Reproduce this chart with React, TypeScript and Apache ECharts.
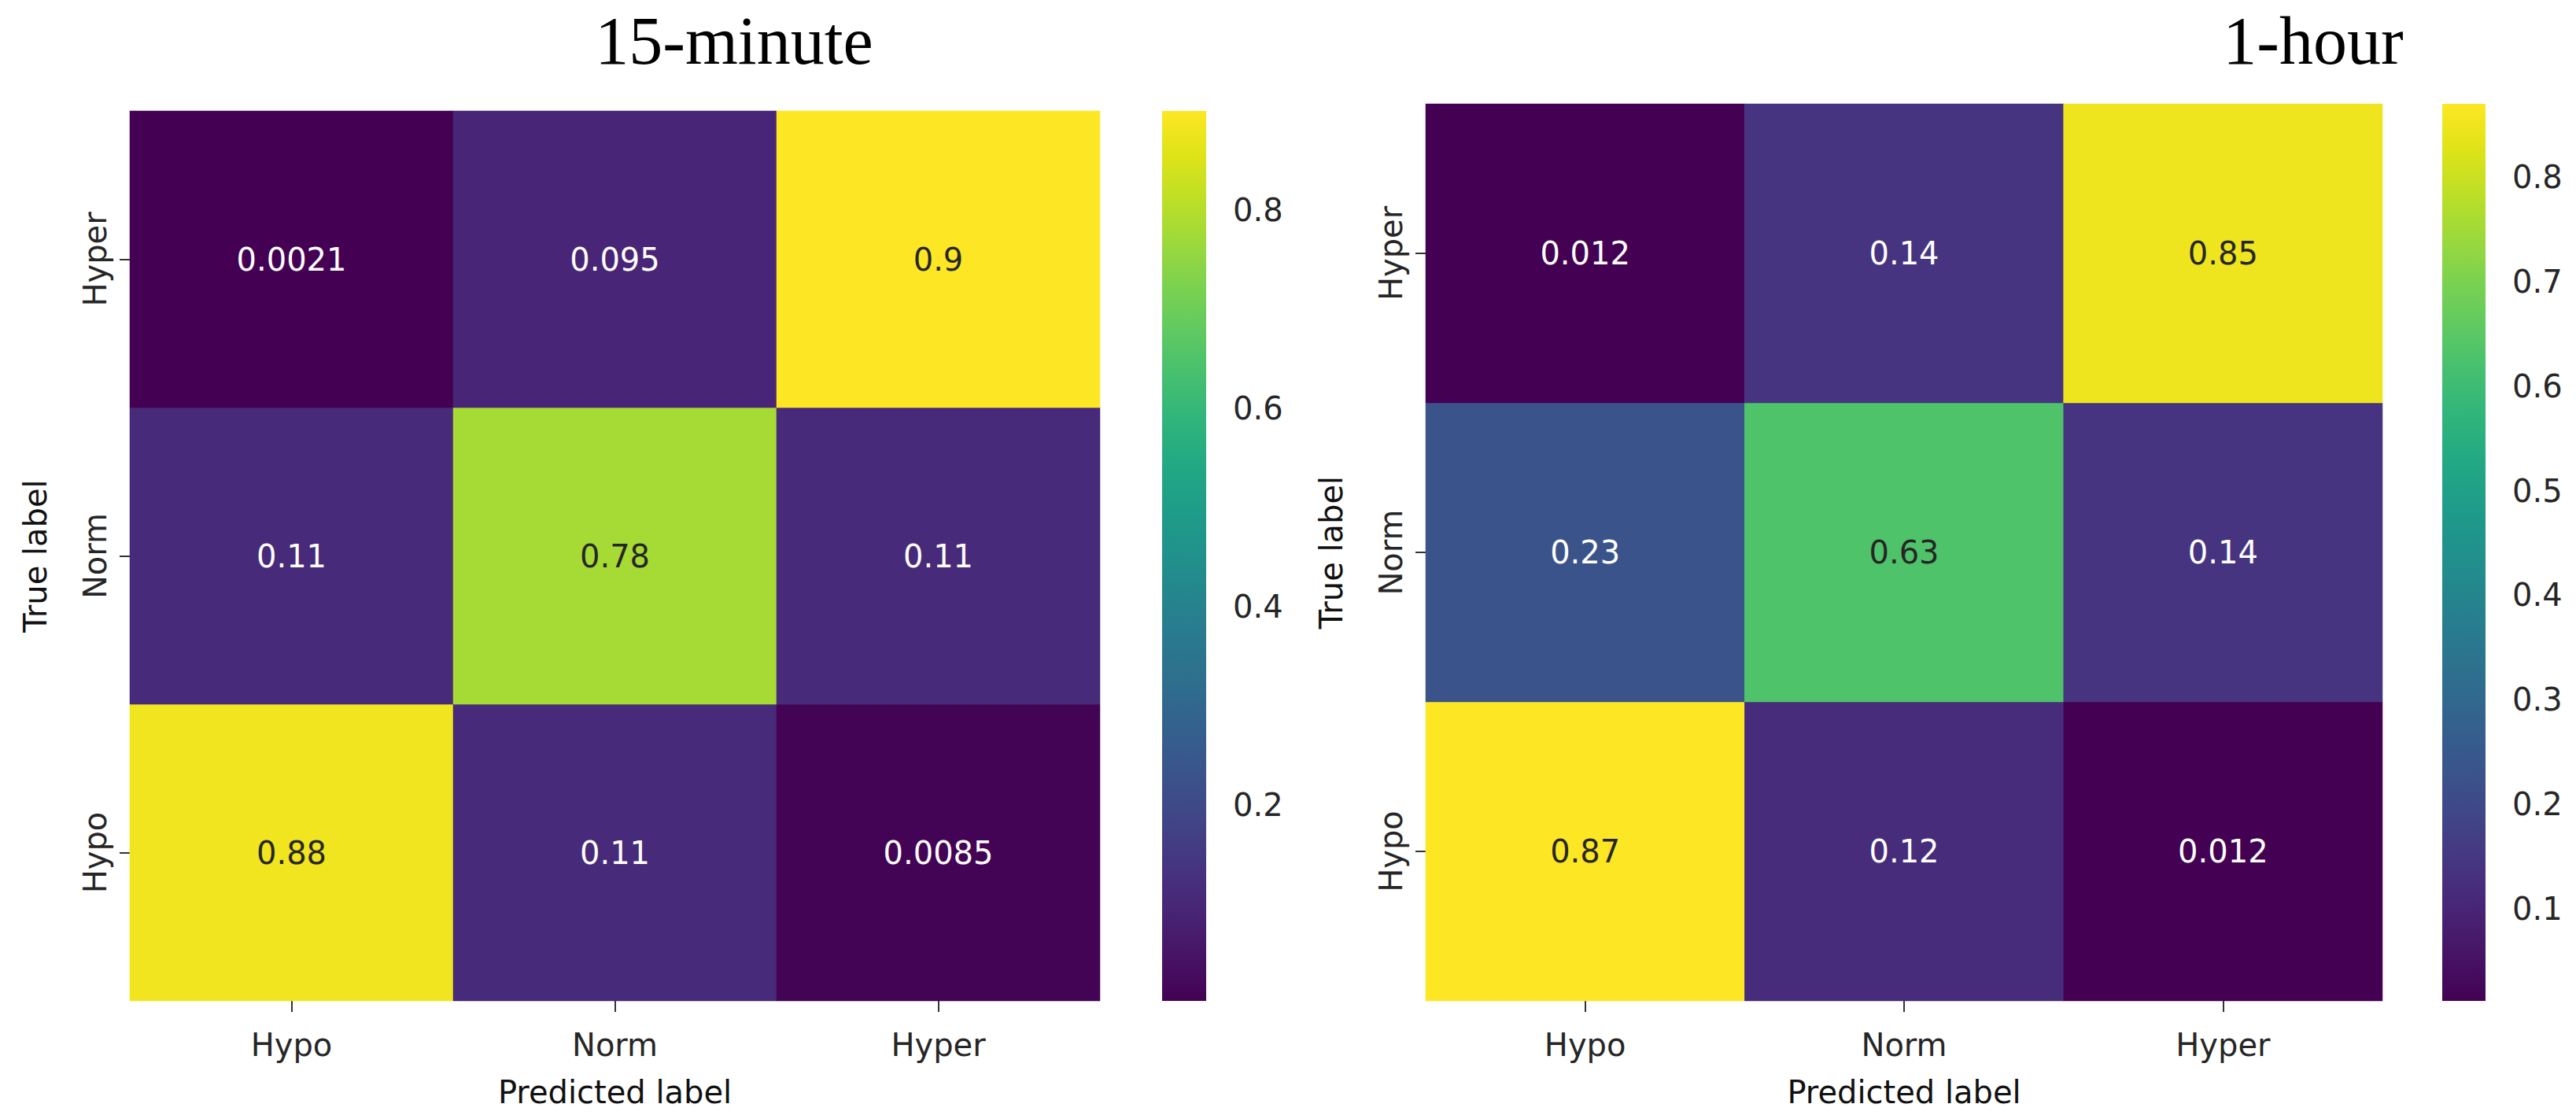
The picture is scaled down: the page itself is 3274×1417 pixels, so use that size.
import React, { useEffect, useRef } from "react";
import * as echarts from "echarts";

const categories = ["Hypo", "Norm", "Hyper"];

// 15-minute confusion matrix (rows = true label)
const trueHypo15 = [0.88, 0.11, 0.0085];
const trueNorm15 = [0.11, 0.78, 0.11];
const trueHyper15 = [0.0021, 0.095, 0.9];

// 1-hour confusion matrix (rows = true label)
const trueHypo60 = [0.87, 0.12, 0.012];
const trueNorm60 = [0.23, 0.63, 0.14];
const trueHyper60 = [0.012, 0.14, 0.85];

const range15 = [0.0021, 0.9];
const range60 = [0.012, 0.87];
const ticks15 = [0.2, 0.4, 0.6, 0.8];
const ticks60 = [0.1, 0.2, 0.3, 0.4, 0.5, 0.6, 0.7, 0.8];

const titles = ["15-minute", "1-hour"];

const viridis = [
  "#440154", "#471365", "#482475", "#463480", "#414487", "#3b528b",
  "#355f8d", "#2f6c8e", "#2a788e", "#25848e", "#21918c", "#1e9c89",
  "#22a884", "#2fb47c", "#44bf70", "#5ec962", "#7ad151", "#9bd93c",
  "#bddf26", "#dfe318", "#fde725",
];

const FONT = "DejaVu Sans";
const TXT = "#262626";

function buildData(rows: number[][], range: number[]) {
  const out: any[] = [];
  rows.forEach((row, yi) => {
    row.forEach((v, xi) => {
      const t = (v - range[0]) / (range[1] - range[0]);
      out.push({
        value: [xi, yi, v],
        label: { color: t > 0.55 ? TXT : "#ffffff" },
      });
    });
  });
  return out;
}

export default function App() {
  const ref = useRef<HTMLDivElement>(null);
  useEffect(() => {
    if (!ref.current) return;
    const chart = echarts.init(ref.current, undefined, { renderer: "svg" });

    const panels = [
      {
        rows: [trueHypo15, trueNorm15, trueHyper15],
        range: range15,
        ticks: ticks15,
        grid: { left: 165, top: 141, width: 1233, height: 1131 },
        cbar: { left: 1477, top: 141, width: 56, height: 1131 },
      },
      {
        rows: [trueHypo60, trueNorm60, trueHyper60],
        range: range60,
        ticks: ticks60,
        grid: { left: 1812, top: 132, width: 1216, height: 1140 },
        cbar: { left: 3104, top: 132, width: 55, height: 1140 },
      },
    ];

    const grid: any[] = [];
    const xAxis: any[] = [];
    const yAxis: any[] = [];
    const series: any[] = [];
    const visualMap: any[] = [];

    panels.forEach((p) => {
      const gi = grid.length;
      grid.push({ ...p.grid, containLabel: false });
      grid.push({ ...p.cbar, containLabel: false });

      xAxis.push({
        type: "category",
        gridIndex: gi,
        data: categories,
        axisLine: { show: false },
        axisTick: { show: true, alignWithLabel: true, length: 14, lineStyle: { color: "#333", width: 2 } },
        axisLabel: { fontSize: 40, fontFamily: FONT, color: TXT, margin: 36 },
        name: "Predicted label",
        nameLocation: "middle",
        nameGap: 96,
        nameTextStyle: { fontSize: 40, fontFamily: FONT, color: "#111" },
        splitLine: { show: false },
      });
      yAxis.push({
        type: "category",
        gridIndex: gi,
        data: categories,
        axisLine: { show: false },
        axisTick: { show: true, alignWithLabel: true, length: 13, lineStyle: { color: "#333", width: 2 } },
        axisLabel: { fontSize: 40, fontFamily: FONT, color: TXT, rotate: 90, margin: 24 },
        name: "True label",
        nameLocation: "middle",
        nameRotate: 90,
        nameGap: 100,
        nameTextStyle: { fontSize: 40, fontFamily: FONT, color: "#111" },
        splitLine: { show: false },
      });

      xAxis.push({ type: "value", gridIndex: gi + 1, min: 0, max: 1, show: false });
      yAxis.push({
        type: "value",
        gridIndex: gi + 1,
        position: "right",
        min: p.range[0],
        max: p.range[1],
        axisLine: { show: false },
        splitLine: { show: false },
        axisTick: { show: true, length: 17, lineStyle: { color: "#333", width: 2 }, customValues: p.ticks },
        axisLabel: { fontSize: 40, fontFamily: FONT, color: TXT, margin: 34, customValues: p.ticks },
      });

      const si = series.length;
      series.push({
        type: "heatmap",
        xAxisIndex: gi,
        yAxisIndex: gi,
        data: buildData(p.rows, p.range),
        label: {
          show: true,
          fontSize: 40,
          fontFamily: FONT,
          formatter: (d: any) => String(d.value[2]),
        },
        itemStyle: { borderWidth: 0 },
        emphasis: { disabled: true },
      });
      visualMap.push({
        type: "continuous",
        show: false,
        seriesIndex: si,
        dimension: 2,
        min: p.range[0],
        max: p.range[1],
        inRange: { color: viridis },
      });
      series.push({
        type: "custom",
        xAxisIndex: gi + 1,
        yAxisIndex: gi + 1,
        data: [[0, p.range[0], 1, p.range[1]]],
        renderItem: (params: any, api: any) => {
          const a = api.coord([api.value(0), api.value(1)]);
          const b = api.coord([api.value(2), api.value(3)]);
          return {
            type: "rect",
            shape: { x: a[0], y: b[1], width: b[0] - a[0], height: a[1] - b[1] },
            style: {
              fill: new echarts.graphic.LinearGradient(
                0, 1, 0, 0,
                viridis.map((c, k) => ({ offset: k / (viridis.length - 1), color: c }))
              ),
            },
          };
        },
      });
    });

    chart.setOption({
      animation: false,
      backgroundColor: "#ffffff",
      grid,
      xAxis,
      yAxis,
      visualMap,
      series,
      graphic: [
        {
          type: "text",
          x: 933,
          y: 52,
          style: {
            text: titles[0],
            font: "normal 86px 'Liberation Serif'",
            fill: "#000",
            textAlign: "center",
            textVerticalAlign: "middle",
          },
        },
        {
          type: "text",
          x: 2940,
          y: 52,
          style: {
            text: titles[1],
            font: "normal 86px 'Liberation Serif'",
            fill: "#000",
            textAlign: "center",
            textVerticalAlign: "middle",
          },
        },
      ],
    });
    return () => chart.dispose();
  }, []);
  return (
    <div
      ref={ref}
      style={{ position: "absolute", left: 0, top: 0, width: "3274px", height: "1417px" }}
    />
  );
}
